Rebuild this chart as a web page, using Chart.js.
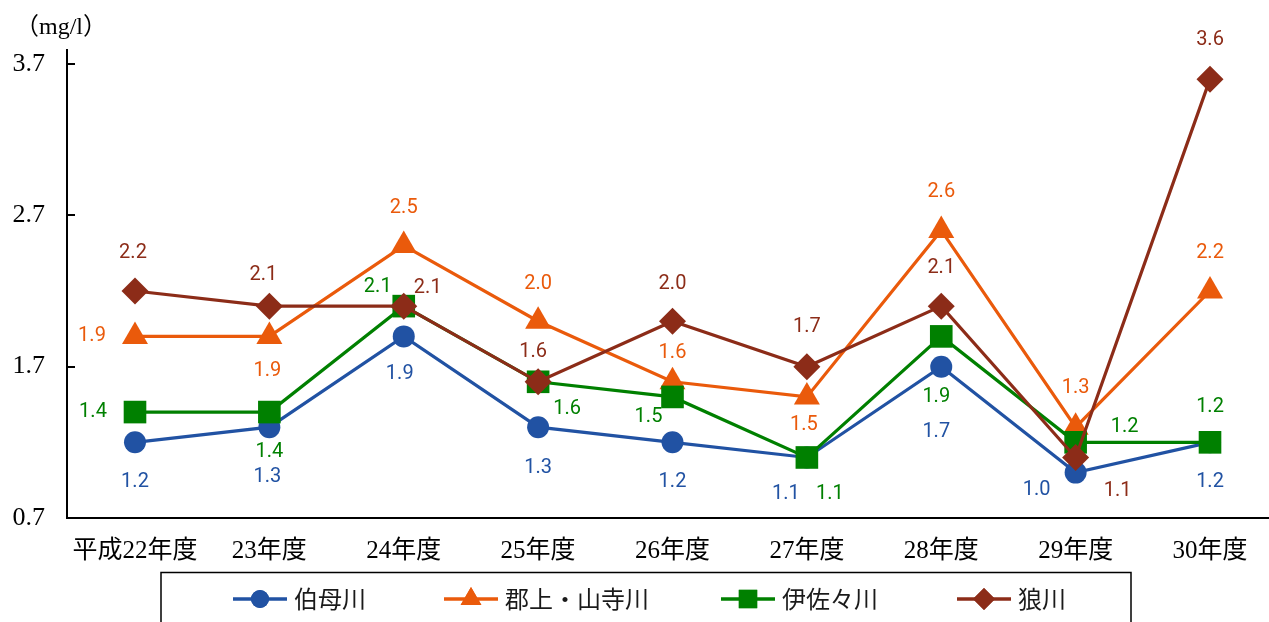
<!DOCTYPE html>
<html>
<head>
<meta charset="utf-8">
<script src="https://cdn.jsdelivr.net/npm/chart.js@4/dist/chart.umd.min.js"></script>
<style>
  html, body { margin: 0; padding: 0; background: #ffffff; }
  canvas { display: block; }
</style>
</head>
<body>
<canvas id="chart" width="1269" height="622"></canvas>
<script>
// Fiscal years (Heisei 22 – 30)
const years = ['平成22年度', '23年度', '24年度', '25年度', '26年度', '27年度', '28年度', '29年度', '30年度'];

// Annual values per river (mg/l)
const hahakogawa = [1.2, 1.3, 1.9, 1.3, 1.2, 1.1, 1.7, 1.0, 1.2];
const gujoYamadera = [1.9, 1.9, 2.5, 2.0, 1.6, 1.5, 2.6, 1.3, 2.2];
const isasagawa = [1.4, 1.4, 2.1, 1.6, 1.5, 1.1, 1.9, 1.2, 1.2];
const ookamigawa = [2.2, 2.1, 2.1, 1.6, 2.0, 1.7, 2.1, 1.1, 3.6];

// Y axis tick values
const yTicks = [0.7, 1.7, 2.7, 3.7];

// Where each value label sits relative to its point [dx, dy] in px
const labelOffsets = {
  hahako: [[0, 40], [-2, 50], [-4, 38], [0, 41], [0, 40], [-21, 37], [-5, 65], [-39, 17], [0, 40]],
  gujo:   [[-43, 0], [-2, 35], [0, -38], [0, -37], [0, -29], [-3, 28], [0, -38], [0, -39], [0, -38]],
  isasa:  [[-42, 0], [0, 40], [-26, -19], [29, 27], [-24, 20], [23, 37], [-5, 61], [49, -15], [0, -35]],
  ookami: [[-2, -38], [-6, -31], [24, -18], [-5, -30], [0, -37], [0, -40], [0, -38], [42, 34], [0, -39]]
};

// Left edge of each legend entry
const legendX = [233, 444, 721, 957];

const toPoints = arr => arr.map((v, i) => ({ x: i, y: v }));

const SERIF = '"Liberation Serif", "Noto Sans CJK JP", serif';
const SANS_JP = '"Noto Sans CJK JP", "Noto Sans", sans-serif';
const LABEL_FONT = 'Roboto, "Noto Sans", sans-serif';

function series(label, data, color, style, radius, order, key) {
  return {
    label, data: toPoints(data),
    borderColor: color, backgroundColor: color,
    borderWidth: 3.2,
    pointStyle: style, pointRadius: radius, pointHoverRadius: radius,
    pointBorderWidth: 0,
    tension: 0, order,
    clip: false,
    offsetKey: key
  };
}

const datasets = [
  series('伯母川', hahakogawa, '#2152a3', 'circle', 11, 4, 'hahako'),
  series('郡上・山寺川', gujoYamadera, '#ea5a0b', 'triangle', 15, 3, 'gujo'),
  series('伊佐々川', isasagawa, '#008000', 'rect', 16, 2, 'isasa'),
  series('狼川', ookamigawa, '#8c2c18', 'rectRot', 13.5, 1, 'ookami')
];

// Value labels next to each marker
const valueLabels = {
  id: 'valueLabels',
  afterDatasetsDraw(chart) {
    const ctx = chart.ctx;
    ctx.save();
    ctx.font = '20px ' + LABEL_FONT;
    ctx.textAlign = 'center';
    ctx.textBaseline = 'middle';
    chart.data.datasets.forEach((ds, di) => {
      const meta = chart.getDatasetMeta(di);
      const offs = labelOffsets[ds.offsetKey];
      ctx.fillStyle = ds.borderColor;
      meta.data.forEach((pt, i) => {
        const [dx, dy] = offs[i];
        ctx.fillText(ds.data[i].y.toFixed(1), pt.x + dx, pt.y + dy);
      });
    });
    ctx.restore();
  }
};

// Unit caption, inner tick marks on the value axis, and the boxed legend
const decorations = {
  id: 'decorations',
  afterDraw(chart) {
    const ctx = chart.ctx;
    const yScale = chart.scales.y;
    const area = chart.chartArea;
    ctx.save();

    // inner tick marks
    ctx.strokeStyle = '#000';
    ctx.lineWidth = 2;
    yTicks.forEach(v => {
      const y = Math.round(yScale.getPixelForValue(v));
      ctx.beginPath();
      ctx.moveTo(area.left, y);
      ctx.lineTo(area.left + 8, y);
      ctx.stroke();
    });

    // unit caption
    ctx.fillStyle = '#000';
    ctx.font = '24px ' + SERIF;
    ctx.textAlign = 'left';
    ctx.textBaseline = 'middle';
    ctx.fillText('（mg/l）', 15, 28);

    // legend frame
    ctx.lineWidth = 1.5;
    ctx.strokeStyle = '#000';
    ctx.strokeRect(161, 572.5, 970, 80);

    // legend entries
    const cy = 599;
    ctx.font = '24px ' + SANS_JP;
    ctx.textBaseline = 'middle';
    chart.data.datasets.forEach((ds, i) => {
      const x = legendX[i];
      ctx.strokeStyle = ds.borderColor;
      ctx.lineWidth = 3.5;
      ctx.beginPath();
      ctx.moveTo(x, cy);
      ctx.lineTo(x + 54, cy);
      ctx.stroke();
      ctx.fillStyle = ds.backgroundColor;
      const r = { circle: 9, triangle: 12, rect: 13, rectRot: 11 }[ds.pointStyle];
      Chart.helpers.drawPoint(ctx, { pointStyle: ds.pointStyle, radius: r, rotation: 0, borderWidth: 0 }, x + 27, cy);
      ctx.fill();
      ctx.fillStyle = '#1a1a1a';
      ctx.fillText(ds.label, x + 61, cy);
    });

    ctx.restore();
  }
};

new Chart(document.getElementById('chart'), {
  type: 'line',
  data: { datasets },
  options: {
    responsive: false,
    animation: false,
    events: [],
    layout: { autoPadding: false, padding: { top: 50, left: 0, right: 0, bottom: 0 } },
    plugins: {
      legend: { display: false },
      tooltip: { enabled: false }
    },
    scales: {
      x: {
        type: 'linear',
        min: -0.506,
        max: 8.439,
        grid: { display: false, drawTicks: false },
        border: { display: true, color: '#000', width: 2 },
        afterBuildTicks: scale => { scale.ticks = years.map((_, i) => ({ value: i })); },
        afterFit: scale => { scale.height = 104; scale.paddingLeft = 0; scale.paddingRight = 0; },
        ticks: {
          autoSkip: false,
          maxRotation: 0,
          padding: 18,
          color: '#000',
          font: { family: SERIF, size: 25 },
          callback: v => years[v]
        }
      },
      y: {
        type: 'linear',
        min: 0.7,
        max: 3.7925,
        grid: { display: false, drawTicks: false },
        border: { display: true, color: '#000', width: 2 },
        afterBuildTicks: scale => { scale.ticks = yTicks.map(v => ({ value: v })); },
        afterFit: scale => { scale.width = 67; scale.paddingTop = 0; scale.paddingBottom = 0; },
        ticks: {
          padding: 22,
          color: '#000',
          font: { family: SERIF, size: 26 },
          callback: v => Number(v).toFixed(1)
        }
      }
    }
  },
  plugins: [valueLabels, decorations]
});
</script>
</body>
</html>
